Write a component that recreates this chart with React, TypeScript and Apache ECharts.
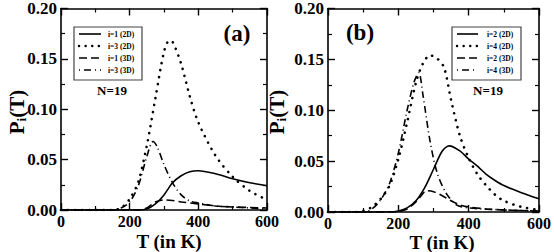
import React, { useEffect, useRef } from "react";
import * as echarts from "echarts";

// ---------- Panel (a) data ----------
const T_A1_2D = [0, 150, 225, 250, 275, 300, 325, 350, 375, 400, 450, 500, 550, 600];
const P_A1_2D = [0, 0, 0, 0.001, 0.006, 0.015, 0.027, 0.034, 0.038, 0.039, 0.036, 0.031, 0.027, 0.024];

const T_A3_2D = [0, 150, 175, 200, 225, 250, 275, 300, 315, 325, 350, 375, 400, 450, 500, 550, 600];
const P_A3_2D = [0, 0, 0.002, 0.011, 0.028, 0.064, 0.111, 0.157, 0.168, 0.167, 0.145, 0.113, 0.087, 0.054, 0.033, 0.019, 0.010];

const T_A1_3D = [0, 150, 225, 250, 275, 300, 325, 350, 400, 450, 500, 550, 600];
const P_A1_3D = [0, 0, 0, 0.002, 0.008, 0.010, 0.0095, 0.008, 0.006, 0.004, 0.003, 0.0025, 0.002];

const T_A3_3D = [0, 150, 175, 200, 225, 250, 268, 280, 300, 325, 350, 375, 400, 450, 500, 550, 600];
const P_A3_3D = [0, 0, 0.002, 0.008, 0.024, 0.053, 0.068, 0.063, 0.045, 0.027, 0.015, 0.009, 0.007, 0.004, 0.003, 0.002, 0.001];

// ---------- Panel (b) data ----------
const T_B2_2D = [0, 175, 200, 225, 250, 275, 300, 325, 345, 375, 400, 425, 450, 475, 500, 550, 600];
const P_B2_2D = [0, 0, 0.001, 0.004, 0.011, 0.024, 0.042, 0.060, 0.065, 0.060, 0.052, 0.045, 0.037, 0.031, 0.026, 0.019, 0.013];

const T_B4_2D = [0, 75, 100, 125, 150, 175, 200, 225, 250, 270, 290, 310, 330, 350, 375, 400, 425, 450, 475, 500, 550, 600];
const P_B4_2D = [0, 0, 0.001, 0.005, 0.013, 0.026, 0.052, 0.088, 0.127, 0.146, 0.154, 0.151, 0.142, 0.110, 0.075, 0.053, 0.037, 0.026, 0.017, 0.011, 0.005, 0.002];

const T_B2_3D = [0, 175, 200, 225, 250, 265, 280, 300, 325, 350, 375, 400, 450, 500, 600];
const P_B2_3D = [0, 0, 0.0005, 0.003, 0.010, 0.016, 0.021, 0.020, 0.016, 0.011, 0.007, 0.005, 0.003, 0.002, 0.001];

const T_B4_3D = [0, 100, 125, 150, 175, 200, 225, 245, 258, 270, 290, 310, 335, 365, 400, 500, 600];
const P_B4_3D = [0, 0, 0.003, 0.012, 0.028, 0.058, 0.100, 0.128, 0.137, 0.115, 0.070, 0.039, 0.019, 0.007, 0.004, 0.002, 0.001];

const X_TICKS = [0, 200, 400, 600];
const Y_TICKS = [0, 0.05, 0.1, 0.15, 0.2];

const LEGEND_A = ["i=1 (2D)", "i=3 (2D)", "i=1 (3D)", "i=3 (3D)"];
const LEGEND_B = ["i=2 (2D)", "i=4 (2D)", "i=2 (3D)", "i=4 (3D)"];

const FONT = "Liberation Serif";

const zip = (xs: number[], ys: number[]) => xs.map((x, i) => [x, ys[i]]);

const SOLID = { type: "solid", width: 1.6, color: "#000" };
const DOTTED = { type: [0.1, 7], width: 2.6, cap: "round", color: "#000" };
const DASHED = { type: [8, 4], width: 1.6, color: "#000" };
const DASHDOT = { type: [7, 3.5, 1, 3.5], width: 1.6, color: "#000" };
const STYLES = [SOLID, DOTTED, DASHED, DASHDOT];

function mkX(grid: number, top: boolean) {
  return {
    type: "value",
    gridIndex: grid,
    position: top ? "top" : "bottom",
    min: X_TICKS[0],
    max: X_TICKS[X_TICKS.length - 1],
    interval: 200,
    axisLine: { show: true, onZero: false, lineStyle: { color: "#000", width: 1.6 } },
    axisTick: { show: true, inside: true, length: 7, lineStyle: { color: "#000", width: 1.4 } },
    minorTick: { show: true, splitNumber: 2, length: 4, lineStyle: { color: "#000", width: 1.2 } },
    splitLine: { show: false },
    axisLabel: {
      show: !top,
      margin: 3,
      color: "#000",
      fontFamily: FONT,
      fontWeight: "bold",
      fontSize: 16,
    },
  };
}

function mkY(grid: number, right: boolean) {
  return {
    type: "value",
    gridIndex: grid,
    position: right ? "right" : "left",
    min: Y_TICKS[0],
    max: Y_TICKS[Y_TICKS.length - 1],
    interval: 0.05,
    axisLine: { show: true, onZero: false, lineStyle: { color: "#000", width: 1.6 } },
    axisTick: { show: true, inside: true, length: 7, lineStyle: { color: "#000", width: 1.4 } },
    minorTick: { show: true, splitNumber: 2, length: 4, lineStyle: { color: "#000", width: 1.2 } },
    splitLine: { show: false },
    axisLabel: {
      show: !right,
      margin: 4,
      color: "#000",
      fontFamily: FONT,
      fontWeight: "bold",
      fontSize: 17,
      formatter: (v: number) => v.toFixed(2),
    },
  };
}

function mkSeries(name: string, xs: number[], ys: number[], style: any, axis: number) {
  return {
    name,
    type: "line",
    xAxisIndex: axis,
    yAxisIndex: axis,
    data: zip(xs, ys),
    smooth: 0.3,
    showSymbol: false,
    symbol: "none",
    lineStyle: style,
    itemStyle: { color: "#000" },
  };
}

function legendBox(names: string[], x0: number, x1: number, lineX0: number, lineX1: number, textX: number) {
  const rows = [34, 46, 58, 70];
  const els: any[] = [
    {
      type: "rect",
      shape: { x: x0, y: 27, width: x1 - x0, height: 53 },
      style: { fill: "#fff", stroke: "#444", lineWidth: 1.2 },
      z: 10,
    },
  ];
  names.forEach((n, i) => {
    els.push({
      type: "line",
      shape: { x1: lineX0, y1: rows[i], x2: lineX1, y2: rows[i] },
      style: {
        stroke: "#000",
        lineWidth: i === 1 ? 2.4 : 1.6,
        lineDash: i === 0 ? null : i === 1 ? [0.1, 6.5] : i === 2 ? [8, 4] : [1, 4, 7, 4],
        lineCap: i === 1 ? "round" : "butt",
      },
      z: 11,
    });
    els.push({
      type: "text",
      x: textX,
      y: rows[i],
      style: {
        text: n,
        align: "left",
        verticalAlign: "middle",
        fill: "#000",
        fontFamily: FONT,
        fontWeight: "bold",
        fontSize: 7.5,
      },
      z: 11,
    });
  });
  return els;
}

function yName(x: number, y: number) {
  return {
    type: "text",
    x,
    y,
    rotation: Math.PI / 2,
    style: {
      text: "{m|P}{s|i}{m|(T)}",
      align: "center",
      verticalAlign: "middle",
      fill: "#000",
      rich: {
        m: { fontFamily: FONT, fontWeight: "bold", fontSize: 21, lineHeight: 22, verticalAlign: "middle" },
        s: { fontFamily: FONT, fontWeight: "bold", fontSize: 13, lineHeight: 22, verticalAlign: "bottom", padding: [9, 0, 0, 0] },
      },
    },
  };
}

function txt(text: string, x: number, y: number, size: number) {
  return {
    type: "text",
    x,
    y,
    style: {
      text,
      align: "center",
      verticalAlign: "middle",
      fill: "#000",
      fontFamily: FONT,
      fontWeight: "bold",
      fontSize: size,
    },
  };
}

export default function App() {
  const ref = useRef<HTMLDivElement>(null);
  useEffect(() => {
    if (!ref.current) return;
    const chart = echarts.init(ref.current, undefined, { renderer: "svg" });
    chart.setOption({
      animation: false,
      backgroundColor: "#fff",
      textStyle: { fontFamily: FONT },
      grid: [
        { left: 61, top: 7, width: 206, height: 203 },
        { left: 328, top: 7, width: 212, height: 205 },
      ],
      xAxis: [mkX(0, false), mkX(0, true), mkX(1, false), mkX(1, true)].map((a, i) => ({
        ...a,
        gridIndex: i < 2 ? 0 : 1,
      })),
      yAxis: [mkY(0, false), mkY(0, true), mkY(1, false), mkY(1, true)].map((a, i) => ({
        ...a,
        gridIndex: i < 2 ? 0 : 1,
      })),
      series: [
        mkSeries(LEGEND_A[0], T_A1_2D, P_A1_2D, SOLID, 0),
        mkSeries(LEGEND_A[1], T_A3_2D, P_A3_2D, DOTTED, 0),
        mkSeries(LEGEND_A[2], T_A1_3D, P_A1_3D, DASHED, 0),
        mkSeries(LEGEND_A[3], T_A3_3D, P_A3_3D, DASHDOT, 0),
        mkSeries(LEGEND_B[0], T_B2_2D, P_B2_2D, SOLID, 2),
        mkSeries(LEGEND_B[1], T_B4_2D, P_B4_2D, DOTTED, 2),
        mkSeries(LEGEND_B[2], T_B2_3D, P_B2_3D, DASHED, 2),
        mkSeries(LEGEND_B[3], T_B4_3D, P_B4_3D, DASHDOT, 2),
      ],
      graphic: [
        yName(17, 112),
        yName(277, 112),
        txt("T (in K)", 169, 241, 19),
        txt("T (in K)", 442, 242, 19),
        txt("(a)", 237, 33, 23),
        txt("(b)", 360, 32, 23),
        txt("N=19", 112, 90, 13),
        txt("N=19", 488, 90, 13),
        ...legendBox(LEGEND_A, 74, 142, 79, 101, 108),
        ...legendBox(LEGEND_B, 452, 521, 457, 478, 487),
      ],
    });
    return () => chart.dispose();
  }, []);
  return (
    <div
      ref={ref}
      style={{ position: "absolute", left: 0, top: 0, width: 554, height: 252, background: "#fff" }}
    />
  );
}
